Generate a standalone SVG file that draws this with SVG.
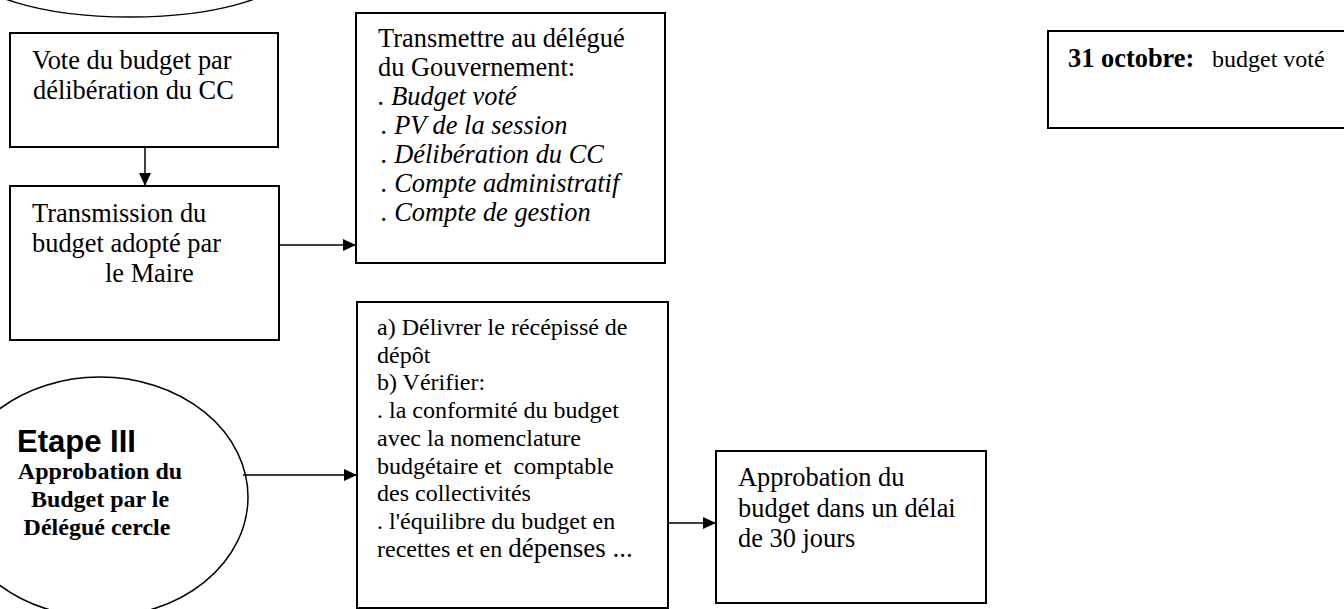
<svg xmlns="http://www.w3.org/2000/svg" width="1344" height="609" viewBox="0 0 1344 609">
<style>
.box{fill:#fff;stroke:#000;stroke-width:2}
.ell{fill:#fff;stroke:#000;stroke-width:1.5}
.t{font-family:"Liberation Serif","Times New Roman",serif;font-size:26.4px;fill:#000}
.t4{font-family:"Liberation Serif","Times New Roman",serif;font-size:24px;fill:#000}
.it{font-style:italic}
.b{font-weight:bold}
.sb{font-family:"Liberation Serif","Times New Roman",serif;font-size:24px;font-weight:bold;fill:#000}
.et{font-family:"Liberation Sans",Arial,sans-serif;font-size:31px;font-weight:bold;fill:#000}
.con{stroke:#000;stroke-width:1.5;fill:none}
</style>
<defs>
<marker id="ah" viewBox="0 0 13 12" refX="13" refY="6" markerWidth="13" markerHeight="12" markerUnits="userSpaceOnUse" orient="auto">
<path d="M0,0 L13,6 L0,12 Z" fill="#000"/>
</marker>
</defs>
<rect width="1344" height="609" fill="#fff"/>
<g id="etape-top">
<ellipse class="ell" cx="130" cy="-33" rx="162" ry="50"/>
</g>
<g id="vote">
<rect class="box" x="10" y="33" width="268" height="114"/>
<text class="t" x="32" y="69">Vote du budget par</text>
<text class="t" x="33" y="99">délibération du CC</text>
</g>
<g id="transmission">
<rect class="box" x="10" y="186" width="269" height="154"/>
<text class="t" x="32" y="222">Transmission du</text>
<text class="t" x="32" y="252">budget adopté par</text>
<text class="t" x="105" y="282">le Maire</text>
</g>
<g id="transmettre">
<rect class="box" x="356" y="13" width="309" height="250"/>
<text class="t" x="378" y="47">Transmettre au délégué</text>
<text class="t" x="378" y="76">du Gouvernement:</text>
<text class="t it" x="378" y="105">. Budget voté</text>
<text class="t it" x="381" y="134">. PV de la session</text>
<text class="t it" x="381" y="163">. Délibération du CC</text>
<text class="t it" x="381" y="192">. Compte administratif</text>
<text class="t it" x="381" y="221">. Compte de gestion</text>
</g>
<g id="date">
<rect class="box" x="1048" y="31" width="310" height="97"/>
<text class="t" x="1068" y="67"><tspan class="b">31 octobre:</tspan><tspan x="1212" font-size="24px">budget voté</tspan></text>
</g>
<g id="etape3">
<ellipse class="ell" cx="100" cy="497" rx="148" ry="120"/>
<text class="et" x="17" y="452">Etape III</text>
<text class="sb" x="100" y="479" text-anchor="middle">Approbation du</text>
<text class="sb" x="100" y="507" text-anchor="middle">Budget par le</text>
<text class="sb" x="97" y="535" text-anchor="middle">Délégué cercle</text>
</g>
<g id="verifier">
<rect class="box" x="357" y="302" width="311" height="306"/>
<text class="t4" x="377" y="335">a) Délivrer le récépissé de</text>
<text class="t4" x="377" y="363">dépôt</text>
<text class="t4" x="377" y="390">b) Vérifier:</text>
<text class="t4" x="377" y="418">. la conformité du budget</text>
<text class="t4" x="377" y="446">avec la nomenclature</text>
<text class="t4" x="377" y="474">budgétaire et&#160; comptable</text>
<text class="t4" x="377" y="501">des collectivités</text>
<text class="t4" x="377" y="529">. l'équilibre du budget en</text>
<text class="t4" x="377" y="557">recettes et en <tspan font-size="27px">dépenses ...</tspan></text>
</g>
<g id="approbation">
<rect class="box" x="716" y="451" width="270" height="152"/>
<text class="t" x="738" y="486">Approbation du</text>
<text class="t" x="738" y="517">budget dans un délai</text>
<text class="t" x="738" y="547">de 30 jours</text>
</g>
<g id="connectors">
<line class="con" x1="145" y1="147" x2="145" y2="186" marker-end="url(#ah)"/>
<line class="con" x1="279" y1="245" x2="356" y2="245" marker-end="url(#ah)"/>
<line class="con" x1="243" y1="475" x2="357" y2="475" marker-end="url(#ah)"/>
<line class="con" x1="668" y1="523" x2="716" y2="523" marker-end="url(#ah)"/>
</g>
</svg>
